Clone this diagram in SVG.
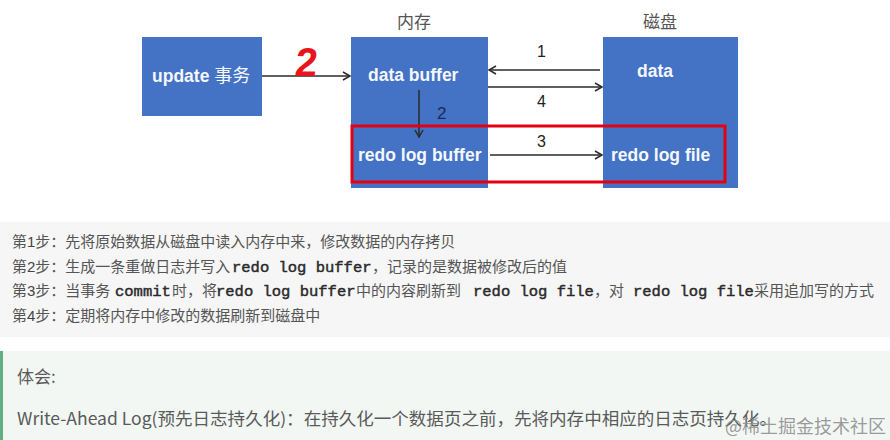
<svg xmlns="http://www.w3.org/2000/svg" width="890" height="440" viewBox="0 0 890 440">
<style>
.box{fill:#4472c4}
.lbl{font-family:"Liberation Sans",Arial,sans-serif;font-weight:bold;font-size:17.5px;fill:#f4f7fc}
.cjkw{font-family:"Noto Sans CJK SC",sans-serif;font-size:18px;fill:#f4f7fc}
.head{font-family:"Noto Sans CJK SC",sans-serif;font-size:17px;fill:#555}
.num{font-family:"Liberation Sans",Arial,sans-serif;font-size:16px;fill:#222}
.conn{stroke:#2b2b2b;stroke-width:1.5;fill:none}
.step{font-family:"Noto Sans CJK SC",sans-serif;font-size:15px;fill:#555}
.mono{font-family:"Liberation Mono","Courier New",monospace;font-size:15.5px;fill:#2a2a2a;stroke:#2a2a2a;stroke-width:0.45}
.dig{font-family:"Liberation Sans",Arial,sans-serif;font-size:15px;fill:#444}
.note{font-family:"Noto Sans CJK SC",sans-serif;fill:#5a5a5a}
</style>
<defs>
<marker id="ah" markerWidth="10" markerHeight="10" refX="8" refY="5" orient="auto" markerUnits="userSpaceOnUse">
<path d="M1,1 L8,5 L1,9" fill="none" stroke="#2b2b2b" stroke-width="1.5"/>
</marker>
</defs>
<rect x="0" y="0" width="890" height="440" fill="#ffffff"/>

<g id="update">
<rect class="box" x="142" y="37" width="120" height="79"/>
<text x="152" y="82"><tspan class="lbl">update </tspan><tspan class="cjkw">事务</tspan></text>
</g>

<g id="memory">
<text class="head" x="397" y="28">内存</text>
<rect class="box" x="351" y="37" width="137" height="151"/>
</g>
<g id="data-buffer">
<text class="lbl" x="368" y="81">data buffer</text>
</g>
<g id="redo-log-buffer">
<text class="lbl" x="358" y="161">redo log buffer</text>
</g>

<g id="disk">
<text class="head" x="643" y="28">磁盘</text>
<rect class="box" x="603" y="37" width="135" height="151"/>
</g>
<g id="data">
<text class="lbl" x="637" y="77" font-size="17">data</text>
</g>
<g id="redo-log-file">
<text class="lbl" x="611" y="161">redo log file</text>
</g>

<g id="connectors">
<line class="conn" x1="262" y1="76" x2="350" y2="76" marker-end="url(#ah)"/>
<line class="conn" x1="600" y1="70" x2="489" y2="70" marker-end="url(#ah)"/>
<line class="conn" x1="488" y1="87" x2="602" y2="87" marker-end="url(#ah)"/>
<line class="conn" x1="419" y1="90" x2="419" y2="137" marker-end="url(#ah)"/>
<line class="conn" x1="490" y1="155" x2="602" y2="155" marker-end="url(#ah)"/>
<text class="num" x="537" y="57">1</text>
<text class="num" x="537" y="107">4</text>
<text class="num" x="537" y="147">3</text>
<text x="437" y="119" font-family="Liberation Sans, Arial, sans-serif" font-size="17" fill="#1c2a57">2</text>
<text x="294" y="76" font-family="Liberation Sans, Arial, sans-serif" font-size="40" font-weight="bold" fill="#e8141b" transform="skewX(-6) translate(8,0)">2</text>
</g>

<rect id="highlight" x="352" y="126" width="373" height="56" fill="none" stroke="#e3000f" stroke-width="3"/>

<g id="steps">
<rect x="0" y="222" width="890" height="115" fill="#f6f6f6"/>
<text class="step" y="247"><tspan x="12">第</tspan><tspan class="dig">1</tspan><tspan>步：先将原始数据从磁盘中读入内存中来，修改数据的内存拷贝</tspan></text>
<text class="step" y="272"><tspan x="12">第</tspan><tspan class="dig">2</tspan><tspan>步：生成一条重做日志并写入</tspan><tspan class="mono" x="232">redo log buffer</tspan><tspan x="372">，记录的是数据被修改后的值</tspan></text>
<text class="step" y="296"><tspan x="12">第</tspan><tspan class="dig">3</tspan><tspan>步：当事务</tspan><tspan class="mono" x="115">commit</tspan><tspan x="172">时，将</tspan><tspan class="mono" x="216">redo log buffer</tspan><tspan x="356">中的内容刷新到</tspan><tspan class="mono" x="473">redo log file</tspan><tspan x="594">，对</tspan><tspan class="mono" x="633">redo log file</tspan><tspan x="754">采用追加写的方式</tspan></text>
<text class="step" y="321"><tspan x="12">第</tspan><tspan class="dig">4</tspan><tspan>步：定期将内存中修改的数据刷新到磁盘中</tspan></text>
</g>

<g id="note">
<rect x="0" y="351" width="890" height="89" fill="#f2f7f4"/>
<rect x="0" y="351" width="3" height="89" fill="#5fae84"/>
<text class="note" x="17" y="383" font-size="17">体会:</text>
<text class="note" x="17" y="425" font-size="17" textLength="760" lengthAdjust="spacingAndGlyphs">Write-Ahead Log(预先日志持久化)：在持久化一个数据页之前，先将内存中相应的日志页持久化。</text>
<text x="725" y="433" font-family="Noto Sans CJK SC, sans-serif" font-size="18" fill="#8a8a8a" fill-opacity="0.85">@稀土掘金技术社区</text>
</g>
</svg>
